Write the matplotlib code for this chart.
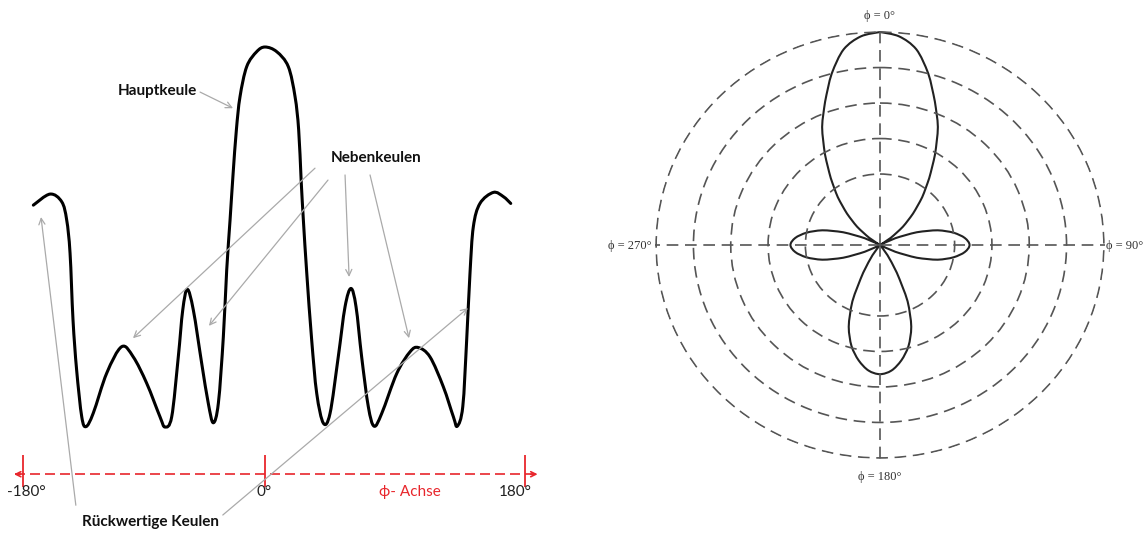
import numpy as np
import matplotlib
matplotlib.use('Agg')
import matplotlib.pyplot as plt
from matplotlib.path import Path
from matplotlib.patches import PathPatch

# Rectangular antenna pattern: angle phi in degrees and relative level
phi_deg = [-172.3, -159.9, -151.2, -147.5, -145.0, -142.8, -140.1, -136.3, -133.1, -127.7,
           -117.7, -106.6, -98.0, -88.0, -78.1, -74.4, -69.4, -64.5, -61.2, -57.8,
           -53.3, -47.1, -42.2, -38.5, -34.7, -31.0, -28.5, -26.0, -23.8, -21.3,
           -18.6, -13.6, -6.2, 0.0, 8.1, 16.1, 20.8, 23.3, 25.0, 26.6,
           28.9, 32.3, 35.8, 40.4, 45.0, 50.7, 55.4, 59.5, 63.0, 66.9,
           71.5, 75.5, 80.8, 91.2, 100.4, 106.1, 114.2, 123.4, 130.4, 133.1,
           136.9, 139.6, 141.9, 144.2, 148.8, 158.1, 165.0, 170.1]
level = [0.628, 0.654, 0.636, 0.593, 0.515, 0.358, 0.240, 0.130, 0.107, 0.139,
         0.233, 0.295, 0.271, 0.209, 0.130, 0.106, 0.130, 0.271, 0.381, 0.430,
         0.381, 0.256, 0.162, 0.116, 0.162, 0.318, 0.475, 0.593, 0.699, 0.805,
         0.883, 0.954, 0.989, 1.000, 0.989, 0.954, 0.883, 0.805, 0.687, 0.590,
         0.468, 0.311, 0.185, 0.115, 0.138, 0.271, 0.389, 0.432, 0.389, 0.271,
         0.154, 0.108, 0.138, 0.232, 0.283, 0.293, 0.271, 0.201, 0.130, 0.108,
         0.154, 0.311, 0.468, 0.577, 0.632, 0.658, 0.648, 0.632]

axis_ticks = [-180, 0, 180]
axis_labels = ['-180°', '0°', '180°']

# Polar pattern, one half (0..180 deg), mirrored for the other side
theta_half = [0, 5, 10, 15, 20, 25, 30, 35, 40, 45, 50, 55, 60, 65, 70, 75, 80, 85, 90,
              95, 100, 105, 110, 115, 120, 130, 140, 145, 150, 155, 160, 165, 170, 175, 180]
r_half = [6.0, 5.9, 5.6, 5.0, 4.3, 3.67, 2.95, 2.3, 1.76, 1.25, 0.8, 0.35, 0.0, 0.45, 1.05,
          1.6, 2.0, 2.28, 2.4, 2.28, 2.0, 1.6, 1.05, 0.45, 0.0, 0.0, 0.0, 0.35, 0.9, 1.75,
          2.45, 2.95, 3.3, 3.55, 3.64]
rings = [2, 3, 4, 5, 6]
polar_labels = {'top': 'ϕ = 0°', 'right': 'ϕ = 90°', 'bottom': 'ϕ = 180°', 'left': 'ϕ = 270°'}


def smooth_path(x, y, clip_y=False):
    # Catmull-Rom through the points, written as cubic Bezier segments
    pts = np.column_stack([x, y]).astype(float)
    n = len(pts)
    verts = [pts[0]]
    codes = [Path.MOVETO]
    for i in range(n - 1):
        p0 = pts[max(i - 1, 0)]
        p1 = pts[i]
        p2 = pts[i + 1]
        p3 = pts[min(i + 2, n - 1)]
        c1 = p1 + (p2 - p0) / 6
        c2 = p2 - (p3 - p1) / 6
        if clip_y:
            c1[1] = max(c1[1], 0)
            c2[1] = max(c2[1], 0)
        verts += [c1, c2, p2]
        codes += [Path.CURVE4] * 3
    return Path(verts, codes)


W, H = 1148, 535
fig = plt.figure(figsize=(W / 100, H / 100), dpi=100)

# ---------- left: rectangular plot ----------
ax = fig.add_axes([0, 0, 560 / W, 1])


def fwd(x):
    x = np.asarray(x, dtype=float)
    return np.where(x < 0, x * 242 / 180, x * 260 / 180)


def inv(p):
    p = np.asarray(p, dtype=float)
    return np.where(p < 0, p * 180 / 242, p * 180 / 260)


ax.set_xscale('function', functions=(fwd, inv))
ax.set_xlim(-197.1, 204.2)
ax.set_ylim(-0.148, 1.1106)
ax.axis('off')

ax.add_patch(PathPatch(smooth_path(phi_deg, level), fill=False, edgecolor='black', lw=2.2,
                       joinstyle='round', capstyle='round'))

# red phi axis
red = '#e8262c'
axis_y = -0.005
ax.plot([-186.0, 188.0], [axis_y, axis_y], color=red, lw=1.2, linestyle=(0, (6, 3)))
for tip, back in [(-186.7, -182.0), (188.7, 184.0)]:
    ax.annotate('', xy=(tip, axis_y), xytext=(back, axis_y),
                arrowprops=dict(arrowstyle='->', color=red, lw=1.2, mutation_scale=9,
                                shrinkA=0, shrinkB=0))
ax.vlines(axis_ticks, -0.035, 0.04, color=red, lw=1.3)

label_font = ['Lato', 'DejaVu Sans']
for t, lab, xpos in zip(axis_ticks, axis_labels, [-177.8, -0.5, 173.0]):
    ax.text(xpos, -0.047, lab, ha='center', va='center', fontsize=11,
            family=label_font, color='#222222')
ax.text(100.5, -0.047, 'ϕ- Achse', ha='center', va='center', fontsize=11,
        family=label_font, color=red)

# annotations
grey = '#aaaaaa'
arrow_kw = dict(arrowstyle='->', color=grey, lw=0.9, mutation_scale=11, shrinkA=0, shrinkB=0)

ax.text(-80.3, 0.896, 'Hauptkeule', ha='center', va='center', fontsize=11,
        fontweight='bold', family=label_font, color='#111111')
ax.annotate('', xy=(-23.8, 0.856), xytext=(-48.3, 0.894), arrowprops=arrow_kw)

ax.text(76.8, 0.738, 'Nebenkeulen', ha='center', va='center', fontsize=11,
        fontweight='bold', family=label_font, color='#111111')
for start, end in [((34.6, 0.715), (-98.2, 0.315)),
                   ((43.6, 0.687), (-41.7, 0.344)),
                   ((55.4, 0.699), (58.2, 0.459)),
                   ((72.7, 0.699), (99.7, 0.315))]:
    ax.annotate('', xy=end, xytext=start, arrowprops=arrow_kw)

ax.text(-84.8, -0.118, 'Rückwertige Keulen', ha='center', va='center', fontsize=11,
        fontweight='bold', family=label_font, color='#111111')
for start, end in [((-140.7, -0.078), (-166.6, 0.600)),
                   ((-31.4, -0.101), (140.5, 0.386))]:
    ax.annotate('', xy=end, xytext=start, arrowprops=arrow_kw)

# ---------- right: polar plot ----------
pax = fig.add_axes([655 / W, (H - 459) / H, 450 / W, 428 / H], projection='polar')
pax.set_aspect('auto')
pax.set_theta_zero_location('N')
pax.set_theta_direction(-1)

theta = np.array(theta_half + [360 - t for t in theta_half[-2::-1]])
r = np.array(r_half + r_half[-2::-1])
pax.add_patch(PathPatch(smooth_path(np.radians(theta), r, clip_y=True), fill=False,
                        edgecolor='#222222', lw=1.5, transform=pax.transData))

pax.set_ylim(0, 6.03)
pax.set_rgrids(rings, labels=[''] * len(rings))
pax.set_thetagrids([0, 90, 180, 270], labels=[''] * 4)
pax.grid(True, color='#555555', lw=1.2, linestyle=(0, (7, 4)))
pax.spines['polar'].set_visible(False)
pax.tick_params(length=0)

serif = ['Liberation Serif', 'DejaVu Serif']
pax.text(0.5, 1.035, polar_labels['top'], transform=pax.transAxes, ha='center', va='center',
         fontsize=9, family=serif, color='#333333')
pax.text(1.044, 0.498, polar_labels['right'], transform=pax.transAxes, ha='center', va='center',
         fontsize=9, family=serif, color='#333333')
pax.text(0.5, -0.042, polar_labels['bottom'], transform=pax.transAxes, ha='center', va='center',
         fontsize=9, family=serif, color='#333333')
pax.text(-0.056, 0.498, polar_labels['left'], transform=pax.transAxes, ha='center', va='center',
         fontsize=9, family=serif, color='#333333')

fig.savefig('out.png', dpi=100, facecolor='white')
